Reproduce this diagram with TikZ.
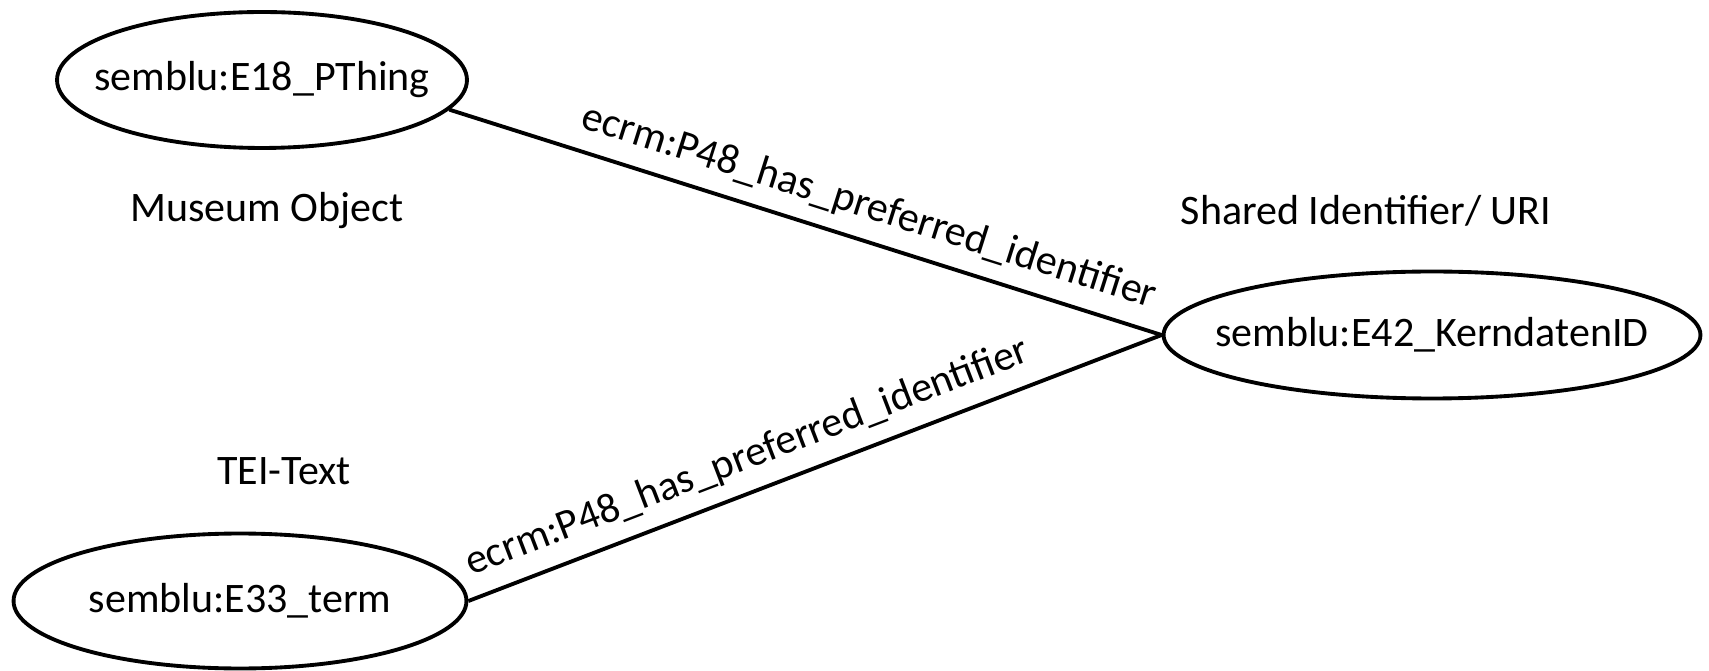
\documentclass[tikz,border=0pt]{standalone}
\usepackage{fontspec}
\setmainfont{Carlito}
\usetikzlibrary{shapes.geometric}

\begin{document}
\begin{tikzpicture}[x=0.02cm,y=-0.02cm,
	classnode/.style={draw, ellipse, line width=2.2pt, inner sep=0pt},
	notetext/.style={inner sep=0pt},
	relation/.style={line width=2.2pt}]

	% ---- canvas

	\useasboundingbox (0,0) rectangle (1709,671);
	\fontsize{23.9}{28}\selectfont

	% ---- classes (text kept out of the ellipse size)

	\node[classnode, minimum width=8.2cm, minimum height=2.72cm] (PThing) at (262,80) {\makebox[0pt]{semblu:E18\_PThing}};
	\node[classnode, minimum width=10.74cm, minimum height=2.54cm] (KID) at (1432,335) {\makebox[0pt]{semblu:E42\_KerndatenID}};
	\node[classnode, minimum width=9.06cm, minimum height=2.7cm] (Term) at (240,601) {\makebox[0pt]{semblu:E33\_term}};

	% ---- notes

	\node[notetext] (museum) at (267,211) {Museum Object};
	\node[notetext] (shared) at (1366,211) {Shared Identifier/ URI};
	\node[notetext] (tei) at (284,471) {TEI-Text};

	% ---- properties

	\draw[relation] (PThing.-9) -- node[sloped, above, pos=0.575] {ecrm:P48\_has\_preferred\_identifier} (KID.west);
	\draw[relation] (Term.east) -- node[sloped, above, pos=0.42] {ecrm:P48\_has\_preferred\_identifier} (KID.west);

\end{tikzpicture}
\end{document}
